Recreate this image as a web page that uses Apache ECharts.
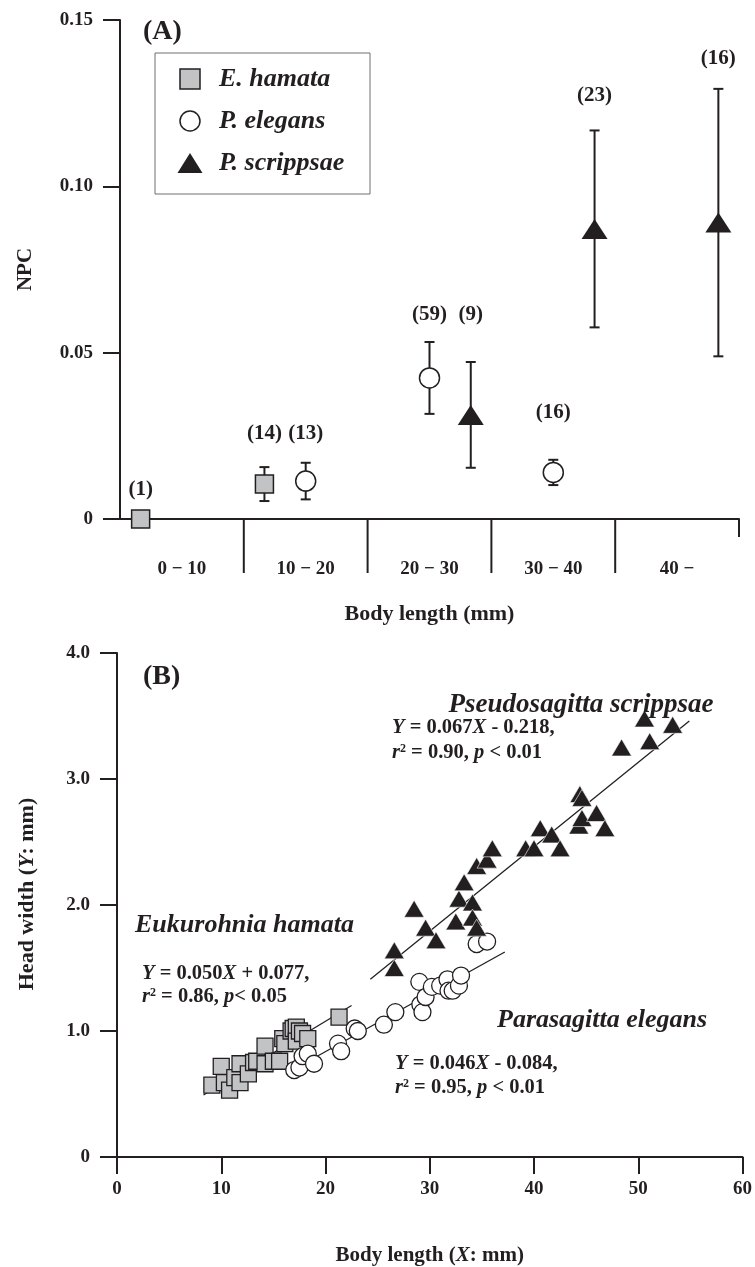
<!DOCTYPE html>
<html>
<head>
<meta charset="utf-8">
<script src="https://cdn.jsdelivr.net/npm/echarts@6/dist/echarts.min.js"></script>
<style>
  html, body { margin: 0; padding: 0; background: #fff; }
  #chart { width: 755px; height: 1267px; }
</style>
</head>
<body>
<div id="chart"></div>
<script>
// ---------- (A) NPC per body-length class: mean, SD and sample size ----------
const sizeClasses = ['0 − 10', '10 − 20', '20 − 30', '30 − 40', '40 −'];

const hamataNpcMean    = [0,    0.0105, null,   null,   null];
const hamataNpcSd      = [null, 0.0051, null,   null,   null];
const hamataN          = [1,    14,     null,   null,   null];

const elegansNpcMean   = [null, 0.0114, 0.0424, 0.0140, null];
const elegansNpcSd     = [null, 0.0055, 0.0108, 0.0038, null];
const elegansN         = [null, 13,     59,     16,     null];

const scrippsaeNpcMean = [null, null,   0.0313, 0.0872, 0.0891];
const scrippsaeNpcSd   = [null, null,   0.0159, 0.0296, 0.0402];
const scrippsaeN       = [null, null,   9,      23,     16];

// NPC level at which each "(n)" label is written
const hamataNLabelAt    = [0.0087, 0.0258, null,   null,   null];
const elegansNLabelAt   = [null,   0.0258, 0.0613, 0.0319, null];
const scrippsaeNLabelAt = [null,   null,   0.0613, 0.1273, 0.1384];

const npcTickLabels = ['0', '0.05', '0.10', '0.15'];

// ---------- (B) head width (mm) against body length (mm) ----------
const hamataBodyLength = [9.1, 10.0, 10.3, 10.8, 11.3, 11.8, 11.8, 12.6, 13.1, 13.4, 14.2, 14.2,
                          15.0, 15.6, 15.9, 16.1, 16.7, 16.9, 17.2, 17.2, 17.5, 17.8, 18.3, 21.3];
const hamataHeadWidth  = [0.57, 0.72, 0.59, 0.53, 0.63, 0.74, 0.59, 0.66, 0.75, 0.76, 0.88, 0.74,
                          0.76, 0.76, 0.94, 0.90, 1.00, 1.02, 1.03, 0.92, 1.00, 0.98, 0.94, 1.11];

const elegansBodyLength = [17.0, 17.5, 17.8, 18.3, 18.9, 21.2, 21.5, 22.8, 23.1, 25.6, 26.7, 29.0,
                           29.1, 29.3, 29.6, 30.2, 31.0, 31.7, 31.8, 32.2, 32.8, 33.0, 34.5, 35.5];
const elegansHeadWidth  = [0.69, 0.71, 0.80, 0.82, 0.74, 0.90, 0.84, 1.02, 1.00, 1.05, 1.15, 1.39,
                           1.21, 1.15, 1.27, 1.35, 1.36, 1.41, 1.32, 1.32, 1.36, 1.44, 1.69, 1.71];

const scrippsaeBodyLength = [26.6, 26.6, 28.5, 29.6, 30.6, 32.5, 32.8, 33.3, 34.1, 34.1, 34.5, 34.5,
                             35.5, 36.0, 39.2, 40.0, 40.6, 41.7, 42.5, 44.3, 44.4, 44.6, 44.6, 46.0,
                             46.8, 48.4, 50.6, 51.1, 53.3];
const scrippsaeHeadWidth  = [1.64, 1.50, 1.97, 1.82, 1.72, 1.87, 2.05, 2.18, 2.02, 1.90, 1.82, 2.31,
                             2.36, 2.45, 2.45, 2.45, 2.61, 2.56, 2.45, 2.63, 2.88, 2.85, 2.69, 2.73,
                             2.61, 3.25, 3.48, 3.30, 3.43];

// least-squares fits (hamata, elegans, scrippsae) and the body-length span each is drawn over
const fitSlope     = [0.050, 0.046, 0.067];
const fitIntercept = [0.077, -0.084, -0.218];
const fitFrom      = [8.3, 17.0, 24.3];
const fitTo        = [22.5, 37.2, 54.9];

const headWidthTickLabels = ['0', '1.0', '2.0', '3.0', '4.0'];

// ---------- styling ----------
const FONT = '"Liberation Serif", "Times New Roman", Times, serif';
const INK = '#231f20';
const GREY = '#c2c3c5';

const speciesStyle = [
  { symbol: 'rect',     sizeA: 18,       sizeB: 16,       fill: GREY,   offset: -1 / 3 },
  { symbol: 'circle',   sizeA: 20,       sizeB: 17,       fill: '#fff', offset: 0 },
  { symbol: 'triangle', sizeA: [26, 20], sizeB: [20, 17], fill: INK,    offset: 1 / 3 }
];

const npcMeans = [hamataNpcMean, elegansNpcMean, scrippsaeNpcMean];
const npcSds = [hamataNpcSd, elegansNpcSd, scrippsaeNpcSd];
const npcNs = [hamataN, elegansN, scrippsaeN];
const npcLabelAt = [hamataNLabelAt, elegansNLabelAt, scrippsaeNLabelAt];
const bodyLengths = [hamataBodyLength, elegansBodyLength, scrippsaeBodyLength];
const headWidths = [hamataHeadWidth, elegansHeadWidth, scrippsaeHeadWidth];

const boldText = (size, extra) => Object.assign({
  fontFamily: FONT, fontWeight: 'bold', fontSize: size, color: INK
}, extra || {});

const series = [];

// class dividers hanging below the (A) axis
series.push({
  type: 'custom', xAxisIndex: 0, yAxisIndex: 0, silent: true, clip: false, z: 1,
  data: sizeClasses.map((_, i) => [i + 1, 0]),
  renderItem: (params, api) => {
    const p = api.coord([api.value(0), 0]);
    const len = params.dataIndex === sizeClasses.length - 1 ? 18 : 54;
    return { type: 'line', shape: { x1: p[0], y1: p[1], x2: p[0], y2: p[1] + len },
             style: { stroke: INK, lineWidth: 2 } };
  }
});

// (A) error bars, markers and sample-size labels
speciesStyle.forEach((sp, s) => {
  const bars = [], pts = [], labels = [];
  sizeClasses.forEach((_, c) => {
    const m = npcMeans[s][c];
    if (m == null) return;
    const x = c + 0.5 + sp.offset;
    pts.push([x, m]);
    const sd = npcSds[s][c];
    if (sd != null) bars.push([x, m - sd, m + sd]);
    labels.push([x, npcLabelAt[s][c], npcNs[s][c]]);
  });
  series.push({
    type: 'custom', xAxisIndex: 0, yAxisIndex: 0, silent: true, clip: false, z: 2,
    data: bars,
    renderItem: (params, api) => {
      const top = api.coord([api.value(0), api.value(2)]);
      const bot = api.coord([api.value(0), api.value(1)]);
      const cap = 5;
      const st = { stroke: INK, lineWidth: 2 };
      return { type: 'group', children: [
        { type: 'line', shape: { x1: top[0], y1: top[1], x2: bot[0], y2: bot[1] }, style: st },
        { type: 'line', shape: { x1: top[0] - cap, y1: top[1], x2: top[0] + cap, y2: top[1] }, style: st },
        { type: 'line', shape: { x1: bot[0] - cap, y1: bot[1], x2: bot[0] + cap, y2: bot[1] }, style: st }
      ] };
    }
  });
  series.push({
    type: 'scatter', xAxisIndex: 0, yAxisIndex: 0, silent: true, z: 3,
    symbol: sp.symbol, symbolSize: sp.sizeA, data: pts,
    itemStyle: { color: sp.fill, borderColor: INK, borderWidth: s === 2 ? 0 : 1.5, opacity: 1 }
  });
  series.push({
    type: 'scatter', xAxisIndex: 0, yAxisIndex: 0, silent: true, z: 4,
    symbolSize: 1, data: labels,
    itemStyle: { color: 'rgba(0,0,0,0)', opacity: 1 },
    label: { show: true, position: 'inside', formatter: p => '(' + p.value[2] + ')',
             fontFamily: FONT, fontWeight: 'bold', fontSize: 21, color: INK,
             textBorderWidth: 0, opacity: 1 }
  });
});

// (B) fitted lines
speciesStyle.forEach((sp, s) => {
  series.push({
    type: 'line', xAxisIndex: 2, yAxisIndex: 1, silent: true, z: 2, symbol: 'none',
    lineStyle: { color: INK, width: 1.3 },
    data: [[fitFrom[s], fitSlope[s] * fitFrom[s] + fitIntercept[s]],
           [fitTo[s], fitSlope[s] * fitTo[s] + fitIntercept[s]]]
  });
});

// (B) individuals
speciesStyle.forEach((sp, s) => {
  series.push({
    type: 'scatter', xAxisIndex: 2, yAxisIndex: 1, silent: true, z: 3 + s,
    symbol: sp.symbol, symbolSize: sp.sizeB,
    data: bodyLengths[s].map((x, i) => [x, headWidths[s][i]]),
    itemStyle: { color: sp.fill, borderColor: s === 2 ? '#fff' : INK,
                 borderWidth: s === 2 ? 0.6 : 1.3, opacity: 1 }
  });
});

// ---------- free text ----------
const EQ = 20.5;
const eqRich = {
  i: { fontFamily: FONT, fontWeight: 'bold', fontStyle: 'italic', fontSize: EQ, fill: INK },
  s: { fontFamily: FONT, fontWeight: 'bold', fontSize: 12, fill: INK, verticalAlign: 'top' }
};
const txt = (x, y, text, size, italic, rich, align) => ({
  type: 'text', x, y, silent: true, z: 10,
  style: {
    text, fill: INK, fontFamily: FONT, fontWeight: 'bold', fontSize: size,
    fontStyle: italic ? 'italic' : 'normal', verticalAlign: 'middle', align: align || 'left',
    rich: rich || undefined
  }
});

const legendEntries = ['E. hamata', 'P. elegans', 'P. scrippsae'];
const legendGraphics = [
  { type: 'rect', shape: { x: 155, y: 53, width: 215, height: 141 }, silent: true,
    style: { fill: '#fff', stroke: '#6d6e70', lineWidth: 1 }, z: 9 },
  { type: 'rect', shape: { x: 180, y: 69, width: 20, height: 20 }, silent: true,
    style: { fill: GREY, stroke: INK, lineWidth: 1.5 }, z: 10 },
  { type: 'circle', shape: { cx: 190, cy: 121, r: 10 }, silent: true,
    style: { fill: '#fff', stroke: INK, lineWidth: 1.5 }, z: 10 },
  { type: 'polygon', shape: { points: [[177.5, 173], [202.5, 173], [190, 153]] }, silent: true,
    style: { fill: INK }, z: 10 }
].concat(legendEntries.map((t, i) => txt(219, 79 + 42 * i, t, 26, true)));

const option = {
  animation: false,
  backgroundColor: '#fff',
  grid: [
    { left: 120, top: 20, width: 619, height: 499 },
    { left: 117, top: 653, width: 628, height: 505 }
  ],
  xAxis: [
    { gridIndex: 0, type: 'value', min: 0, max: sizeClasses.length, show: false },
    { gridIndex: 0, type: 'category', position: 'bottom', data: sizeClasses, boundaryGap: true,
      axisLine: { show: true, lineStyle: { color: INK, width: 2 } },
      axisTick: { show: false },
      axisLabel: boldText(19, { margin: 41 }),
      name: 'Body length (mm)', nameLocation: 'middle', nameGap: 84,
      nameTextStyle: boldText(22) },
    { gridIndex: 1, type: 'value', position: 'bottom', min: 0, max: 60, interval: 10,
      axisLine: { show: true, onZero: false, lineStyle: { color: INK, width: 2 } },
      axisTick: { show: true, inside: false, length: 17, lineStyle: { color: INK, width: 2 } },
      axisLabel: boldText(19, { margin: 23 }),
      splitLine: { show: false },
      name: 'Body length ({i|X}: mm)', nameLocation: 'middle', nameGap: 88,
      nameTextStyle: boldText(21, { rich: { i: boldText(21, { fontStyle: 'italic' }) } }) }
  ],
  yAxis: [
    { gridIndex: 0, type: 'value', min: 0, max: 0.15, interval: 0.05,
      axisLine: { show: true, onZero: false, lineStyle: { color: INK, width: 2 } },
      axisTick: { show: true, inside: false, length: 17, lineStyle: { color: INK, width: 2 } },
      axisLabel: boldText(19, { margin: 27, formatter: (v) => npcTickLabels[Math.round(v / 0.05)] }),
      splitLine: { show: false },
      name: 'NPC', nameLocation: 'middle', nameGap: 84, nameTextStyle: boldText(21) },
    { gridIndex: 1, type: 'value', min: 0, max: 4, interval: 1,
      axisLine: { show: true, onZero: false, lineStyle: { color: INK, width: 2 } },
      axisTick: { show: true, inside: false, length: 17, lineStyle: { color: INK, width: 2 } },
      axisLabel: boldText(19, { margin: 27, formatter: (v) => headWidthTickLabels[Math.round(v)] }),
      splitLine: { show: false },
      name: 'Head width ({i|Y}: mm)', nameLocation: 'middle', nameGap: 79,
      nameTextStyle: boldText(22, { padding: [0, 0, 0, 22],
                                    rich: { i: boldText(22, { fontStyle: 'italic' }) } }) }
  ],
  graphic: [
    txt(143, 32, '(A)', 28, false),
    txt(143, 677, '(B)', 28, false),
    txt(581, 705, 'Pseudosagitta scrippsae', 27, true, null, 'center'),
    txt(392, 728, '{i|Y} = 0.067{i|X} - 0.218,', EQ, false, eqRich),
    txt(392, 753, '{i|r}{s|2} = 0.90, {i|p} < 0.01', EQ, false, eqRich),
    txt(135, 925, 'Eukurohnia hamata', 26, true),
    txt(142, 974, '{i|Y} = 0.050{i|X} + 0.077,', EQ, false, eqRich),
    txt(142, 997, '{i|r}{s|2} = 0.86, {i|p}< 0.05', EQ, false, eqRich),
    txt(497, 1020, 'Parasagitta elegans', 26, true),
    txt(395, 1064, '{i|Y} = 0.046{i|X} - 0.084,', EQ, false, eqRich),
    txt(395, 1088, '{i|r}{s|2} = 0.95, {i|p} < 0.01', EQ, false, eqRich)
  ].concat(legendGraphics),
  series
};

const chart = echarts.init(document.getElementById('chart'), null, { renderer: 'canvas' });
chart.setOption(option);
</script>
</body>
</html>
